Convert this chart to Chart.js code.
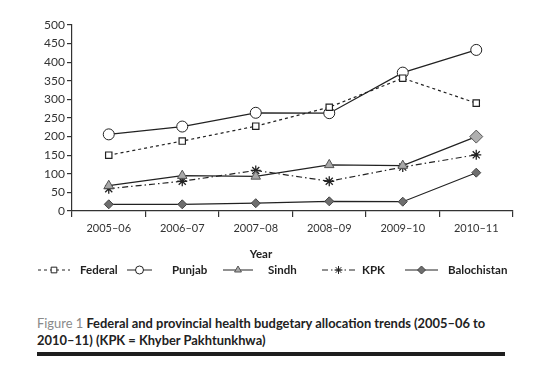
<!DOCTYPE html>
<html>
<head>
<meta charset="utf-8">
<script src="https://cdn.jsdelivr.net/npm/chart.js@4.4.1/dist/chart.umd.min.js"></script>
<style>
  html, body { margin: 0; padding: 0; background: #fff; }
  #wrap { position: relative; width: 542px; height: 377px; overflow: hidden; }
  #chart { position: absolute; left: 0; top: 0; }
  #caption {
    position: absolute; left: 37px; top: 315px; width: 490px;
    font-family: Lato, sans-serif; font-weight: bold; font-size: 12.9px;
    line-height: 17px; color: #222;
  }
  #caption .fig { color: #8a8a8a; font-weight: normal; }
  #rule { position: absolute; left: 37px; top: 352px; width: 468px; height: 4px; background: #1e1e1e; }
</style>
</head>
<body>
<div id="wrap">
  <canvas id="chart" width="542" height="290"></canvas>
  <div id="caption"><span class="fig">Figure 1</span> Federal and provincial health budgetary allocation trends (2005–06 to<br>2010–11) (KPK = Khyber Pakhtunkhwa)</div>
  <div id="rule"></div>
</div>
<script>
'use strict';

// ---- Data ----
const years       = ['2005–06', '2006–07', '2007–08', '2008–09', '2009–10', '2010–11'];
const federal     = [150, 188, 228, 279, 357, 290];
const punjab      = [206, 227, 264, 263, 372, 433];
const sindh       = [68, 95, 93, 124, 122, 200];
const kpk         = [60, 80, 109, 80, 118, 151];
const balochistan = [18, 18, 21, 26, 25, 103];
const yTicks      = [0, 50, 100, 150, 200, 250, 300, 350, 400, 450, 500];

const INK = '#222';

// ---- Legend drawn under the axis (line sample with marker in the middle) ----
const legendItems = [
  { ds: 0, x0: 38,  x1: 70,  text: 'Federal',     tx: 80 },
  { ds: 1, x0: 127, x1: 152, text: 'Punjab',      tx: 172 },
  { ds: 2, x0: 223, x1: 253, text: 'Sindh',       tx: 268 },
  { ds: 3, x0: 322, x1: 355, text: 'KPK',         tx: 362 },
  { ds: 4, x0: 405, x1: 438, text: 'Balochistan', tx: 448 }
];

const legendPlugin = {
  id: 'lineLegend',
  afterDraw(chart) {
    const ctx = chart.ctx;
    const y = 270;
    ctx.save();
    // axis title
    ctx.font = 'bold 11.5px Lato, sans-serif';
    ctx.fillStyle = INK;
    ctx.textAlign = 'center';
    ctx.textBaseline = 'middle';
    ctx.fillText('Year', 261, 254);

    legendItems.forEach(item => {
      const ds = chart.data.datasets[item.ds];
      ctx.strokeStyle = ds.borderColor;
      ctx.lineWidth = 1;
      ctx.setLineDash(ds.borderDash || []);
      ctx.beginPath();
      ctx.moveTo(item.x0, y);
      ctx.lineTo(item.x1, y);
      ctx.stroke();
      ctx.setLineDash([]);
      const style = Array.isArray(ds.pointStyle) ? ds.pointStyle[0] : ds.pointStyle;
      const fill = Array.isArray(ds.pointBackgroundColor) ? ds.pointBackgroundColor[0] : ds.pointBackgroundColor;
      ctx.fillStyle = fill;
      ctx.strokeStyle = ds.pointBorderColor;
      Chart.helpers.drawPoint(ctx, {
        pointStyle: style, radius: 4, rotation: 0, borderWidth: 1
      }, (item.x0 + item.x1) / 2, y);
      ctx.fillStyle = INK;
      ctx.font = 'bold 11.5px Lato, sans-serif';
      ctx.textAlign = 'left';
      ctx.fillText(item.text, item.tx, y);
    });
    ctx.restore();
  }
};

new Chart(document.getElementById('chart').getContext('2d'), {
  type: 'line',
  data: {
    labels: years,
    datasets: [
      {
        label: 'Federal', data: federal,
        borderColor: INK, borderWidth: 1.2, borderDash: [3, 3],
        pointStyle: 'rect', pointRadius: 4.5,
        pointBackgroundColor: '#fff', pointBorderColor: INK, pointBorderWidth: 1.2
      },
      {
        label: 'Punjab', data: punjab,
        borderColor: INK, borderWidth: 1.2,
        pointStyle: 'circle', pointRadius: 5.5,
        pointBackgroundColor: '#fff', pointBorderColor: INK, pointBorderWidth: 1
      },
      {
        label: 'Sindh', data: sindh,
        borderColor: INK, borderWidth: 1.2,
        pointStyle: ['triangle', 'triangle', 'triangle', 'triangle', 'triangle', 'rectRot'],
        pointRadius: [5.5, 5.5, 5.5, 5.5, 5.5, 6.5],
        pointBackgroundColor: ['#a8a8a8', '#a8a8a8', '#a8a8a8', '#a8a8a8', '#a8a8a8', '#b0b0b0'],
        pointBorderColor: '#555', pointBorderWidth: 1
      },
      {
        label: 'KPK', data: kpk,
        borderColor: INK, borderWidth: 1.2, borderDash: [6, 3, 1.5, 3],
        pointStyle: 'star', pointRadius: 5,
        pointBackgroundColor: INK, pointBorderColor: INK, pointBorderWidth: 1.3
      },
      {
        label: 'Balochistan', data: balochistan,
        borderColor: INK, borderWidth: 1.2,
        pointStyle: 'rectRot', pointRadius: 4.5,
        pointBackgroundColor: '#6e6e6e', pointBorderColor: '#444', pointBorderWidth: 1
      }
    ]
  },
  options: {
    responsive: false,
    animation: false,
    layout: { padding: { top: 25, right: 29, bottom: 29, left: 0 } },
    plugins: { legend: { display: false }, tooltip: { enabled: false } },
    scales: {
      x: {
        type: 'category',
        offset: true,
        grid: { offset: true, drawOnChartArea: false, tickLength: 6, color: '#333', lineWidth: 1.2 },
        border: { color: '#333', width: 1.2 },
        ticks: { font: { family: 'Lato', size: 11 }, color: '#333', padding: 5, maxRotation: 0 },
        afterFit: s => { s.height = 50; }
      },
      y: {
        min: 0, max: 500,
        afterBuildTicks: s => { s.ticks = yTicks.map(v => ({ value: v })); },
        grid: { drawOnChartArea: false, tickLength: 5, color: '#333', lineWidth: 1.2 },
        border: { color: '#333', width: 1.2 },
        ticks: { font: { family: 'Lato', size: 12 }, color: '#333', padding: 2 },
        afterFit: s => { s.width = 72; }
      }
    }
  },
  plugins: [legendPlugin]
});
</script>
</body>
</html>
